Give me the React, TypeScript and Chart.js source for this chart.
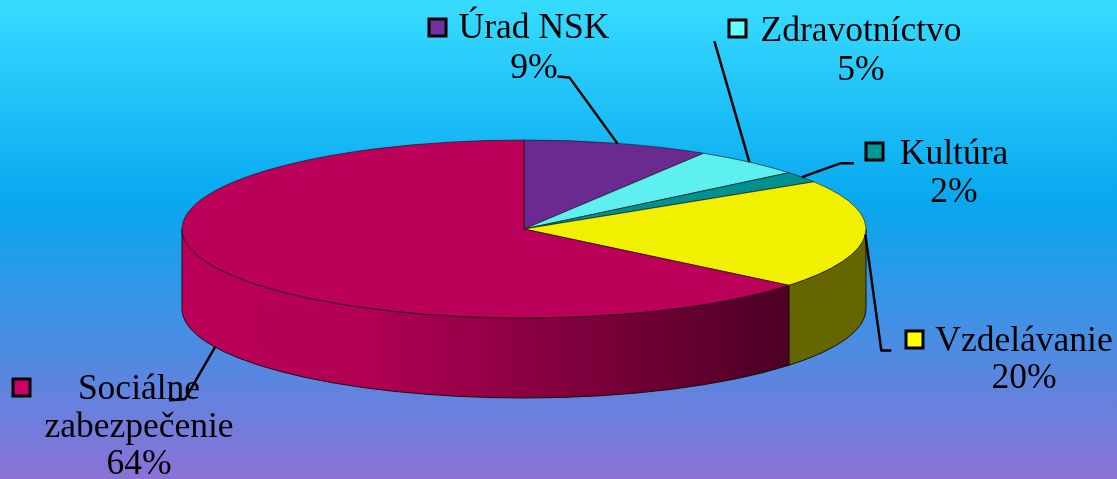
import React, { useEffect, useRef } from "react";
import { Chart, registerables } from "chart.js";

Chart.register(...registerables);

const categories = ["Úrad NSK", "Zdravotníctvo", "Kultúra", "Vzdelávanie", "Sociálne zabezpečenie"];
const values = [8.8, 5.3, 2, 19.8, 64.1];
const sliceColors = ["#6B2A90", "#5EEFEF", "#009090", "#F0F000", "#BA0058"];
const keyColors = ["#70309F", "#66FFFF", "#009999", "#FFFF00", "#CC0066"];
const labelLines = [["Úrad NSK", "9%"], ["Zdravotníctvo", "5%"], ["Kultúra", "2%"], ["Vzdelávanie", "20%"], ["Sociálne", "zabezpečenie", "64%"]];

const W = 1117, H = 479;
const RX = 342, RY = 89, DEPTH = 80;
const SQUASH = RY / RX;

// label layout: text centre, first baseline, line height, key box, leader offsets relative to anchor
const layouts = [
  { cx: 534, base: 38, lh: 40, key: [428, 18], lead: [[-48, -66], [-60, -67]], fromBottom: false },
  { cx: 861, base: 41, lh: 39, key: [728, 19], lead: [[-35, -121]], fromBottom: false },
  { cx: 954, base: 164, lh: 38, key: [865, 142], lead: [[39, -14], [52, -14]], fromBottom: false },
  { cx: 1024, base: 351, lh: 37, key: [905, 330], lead: [[16, 116], [26, 116]], fromBottom: false },
  { cx: 139, base: 399, lh: 37.5, key: [12, 378], lead: [[-30, 52], [-46, 53]], fromBottom: true },
];

const pie3d = {
  id: "pie3d",
  beforeDraw(chart: any) {
    const { ctx } = chart;
    const g = ctx.createLinearGradient(0, 0, 0, H);
    g.addColorStop(0, "#38DCFF");
    g.addColorStop(0.42, "#08A8F0");
    g.addColorStop(1, "#8A72D6");
    ctx.save();
    ctx.fillStyle = g;
    ctx.fillRect(0, 0, W, H);
    ctx.restore();
  },
  beforeDatasetsDraw(chart: any) {
    const { ctx } = chart;
    const arcs = chart.getDatasetMeta(0).data;
    const cx = arcs[0].x, cy = arcs[0].y, rx = arcs[0].outerRadius, ry = rx * SQUASH;
    ctx.save();
    arcs.forEach((arc: any, i: number) => {
      const a1 = Math.max(arc.startAngle, 0);
      const a2 = Math.min(arc.endAngle, Math.PI);
      if (a2 <= a1) return;
      ctx.beginPath();
      ctx.ellipse(cx, cy, rx, ry, 0, a1, a2);
      ctx.ellipse(cx, cy + DEPTH, rx, ry, 0, a2, a1, true);
      ctx.closePath();
      if (i === 4) {
        const xR = cx + rx * Math.cos(a1);
        const xL = cx - rx;
        const g = ctx.createLinearGradient(xL, 0, xR, 0);
        g.addColorStop(0, "#BA0058");
        g.addColorStop(0.3, "#B20054");
        g.addColorStop(1, "#4C0024");
        ctx.fillStyle = g;
      } else {
        ctx.fillStyle = "#666600";
      }
      ctx.fill();
      ctx.strokeStyle = "#1A1010";
      ctx.lineWidth = 1;
      ctx.stroke();
    });
    ctx.restore();
    ctx.save();
    ctx.translate(cx, cy);
    ctx.scale(1, SQUASH);
    ctx.translate(-cx, -cy);
  },
  afterDatasetsDraw(chart: any) {
    const { ctx } = chart;
    ctx.restore();
    const arcs = chart.getDatasetMeta(0).data;
    const cx = arcs[0].x, cy = arcs[0].y, rx = arcs[0].outerRadius, ry = rx * SQUASH;
    ctx.save();
    // leader lines
    ctx.strokeStyle = "#000";
    ctx.lineWidth = 2.5;
    ctx.lineJoin = "round";
    arcs.forEach((arc: any, i: number) => {
      const mid = (arc.startAngle + arc.endAngle) / 2;
      const lay = layouts[i];
      const ax = cx + rx * Math.cos(mid);
      const ay = cy + ry * Math.sin(mid) + (lay.fromBottom ? DEPTH : 0);
      ctx.beginPath();
      ctx.moveTo(ax, ay);
      lay.lead.forEach(([dx, dy]) => ctx.lineTo(ax + dx, ay + dy));
      ctx.stroke();
    });
    // legend keys and labels
    ctx.font = '35.5px "Liberation Serif"';
    ctx.textAlign = "center";
    ctx.textBaseline = "alphabetic";
    ctx.lineJoin = "miter";
    labelLines.forEach((lines, i) => {
      const lay = layouts[i];
      ctx.fillStyle = keyColors[i];
      ctx.fillRect(lay.key[0] + 1, lay.key[1] + 1, 17, 17);
      ctx.strokeStyle = "#000";
      ctx.lineWidth = 3;
      ctx.strokeRect(lay.key[0] + 1, lay.key[1] + 1, 17, 17);
      ctx.fillStyle = "#000";
      lines.forEach((t, k) => ctx.fillText(t, lay.cx, lay.base + k * lay.lh));
    });
    ctx.restore();
  },
};

export default function App() {
  const ref = useRef<HTMLCanvasElement>(null);
  useEffect(() => {
    document.body.style.margin = "0";
    const chart = new Chart(ref.current!, {
      type: "pie",
      data: {
        labels: categories,
        datasets: [{
          data: values,
          backgroundColor: sliceColors,
          borderColor: "#1A1010",
          borderWidth: 1,
          clip: false,
        } as any],
      },
      options: {
        responsive: false,
        animation: false,
        radius: RX,
        layout: { padding: { left: 0, top: 0, right: W - 2 * 524, bottom: H - 2 * 229 } },
        plugins: { legend: { display: false }, tooltip: { enabled: false } },
      } as any,
      plugins: [pie3d],
    });
    return () => chart.destroy();
  }, []);
  return <canvas ref={ref} width={W} height={H} style={{ display: "block", width: W, height: H }} />;
}
